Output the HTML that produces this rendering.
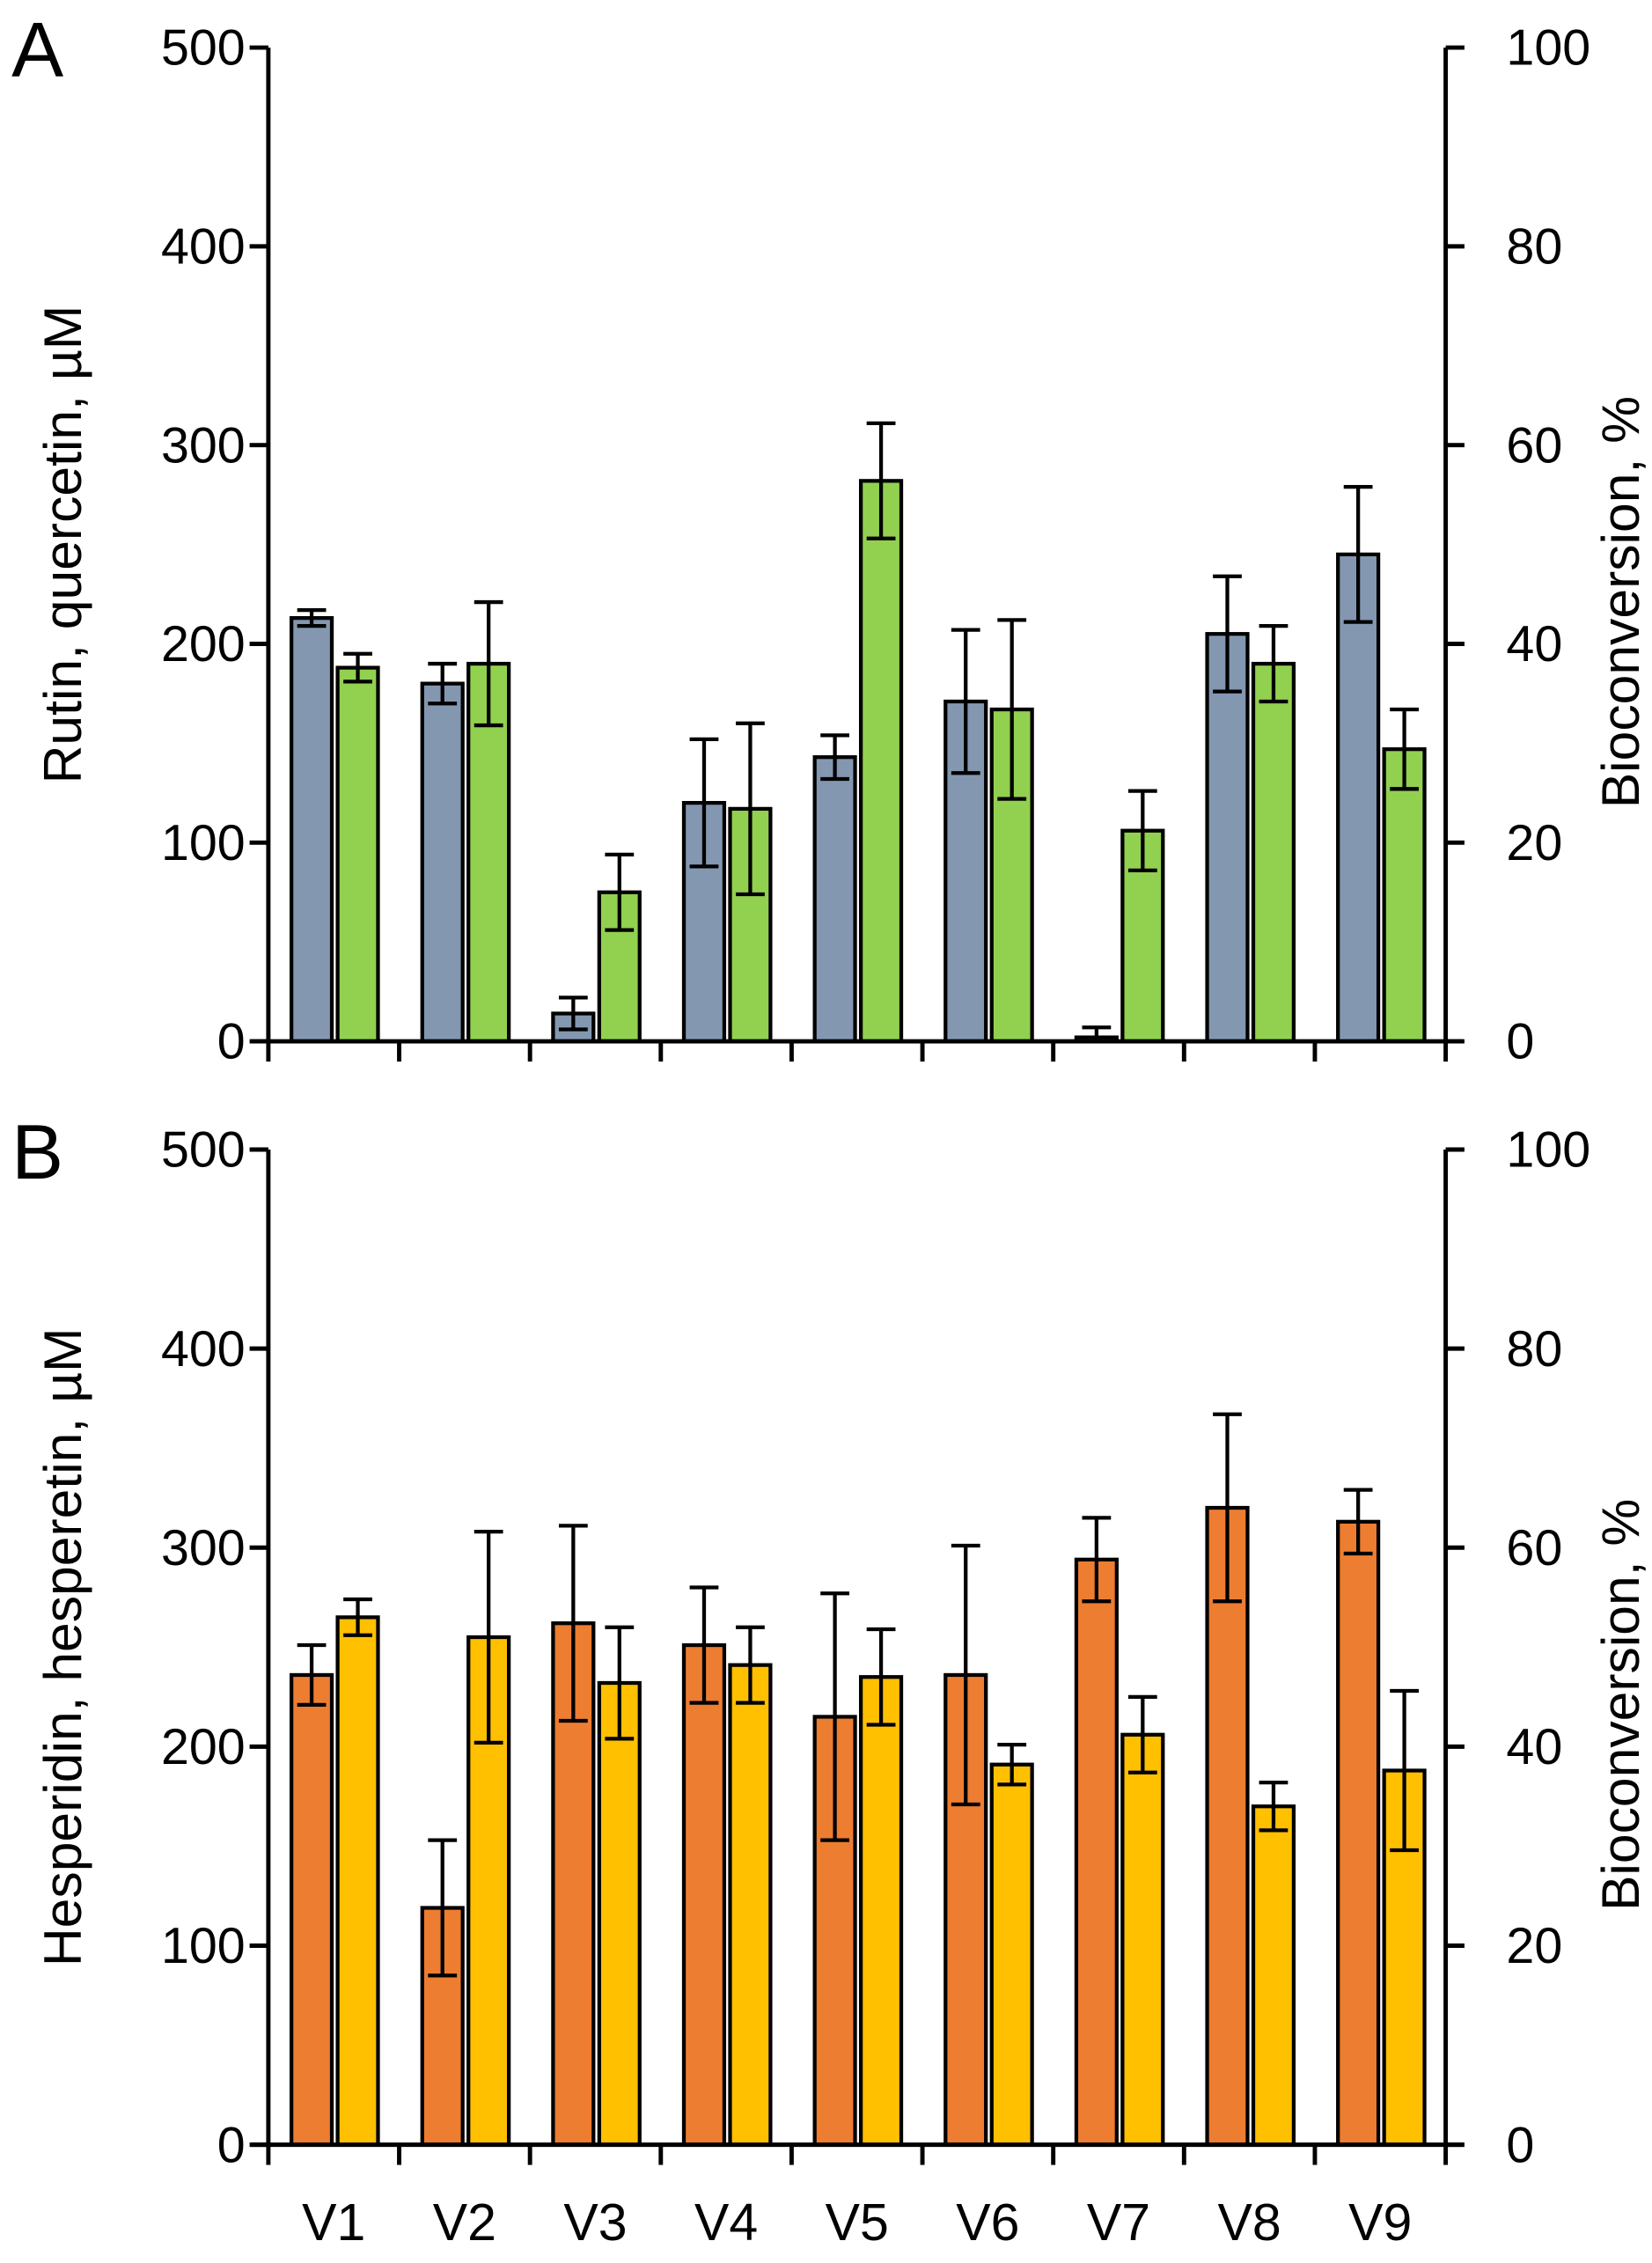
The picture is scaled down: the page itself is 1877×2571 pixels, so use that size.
<!DOCTYPE html>
<html><head><meta charset="utf-8"><style>
html,body{margin:0;padding:0;background:#fff;}
svg{display:block;}
text{font-family:"Liberation Sans",sans-serif;fill:#000;}
</style></head><body>
<svg id="chart" width="1877" height="2571" viewBox="0 0 1145 1569" preserveAspectRatio="none" xmlns="http://www.w3.org/2000/svg"></svg>
<script>
const categories = ["V1","V2","V3","V4","V5","V6","V7","V8","V9"];
const rutin = [213,180,14,120,143,171,2,205,245];
const rutinErr = [4,10,8,32,11,36,5,29,34];
const quercetin = [188,190,75,117,282,167,106,190,147];
const quercetinErr = [7,31,19,43,29,45,20,19,20];
const hesperidin = [236,119,262,251,215,236,294,320,313];
const hesperidinErr = [15,34,49,29,62,65,21,47,16];
const hesperetin = [265,255,232,241,235,191,206,170,188];
const hesperetinErr = [9,53,28,19,24,10,19,12,40];
const leftTicks = [0,100,200,300,400,500];
const rightTicks = [0,20,40,60,80,100];

const NS = "http://www.w3.org/2000/svg";
const svg = document.getElementById("chart");
const X0 = 186, X1 = 1002;
const step = (X1 - X0) / categories.length;
function mk(tag, attrs, parent) {
  const e = document.createElementNS(NS, tag);
  for (const k in attrs) e.setAttribute(k, attrs[k]);
  (parent || svg).appendChild(e);
  return e;
}

function panel(cfg) {
  const g = mk("g", {});
  
  
  const yTop = cfg.yTop, yBot = cfg.yBot;
  const y = v => yBot - (v / 500) * (yBot - yTop);
  categories.forEach((c, i) => {
    const gx = X0 + i * step;
    const series = [[cfg.s1, cfg.e1, cfg.c1], [cfg.s2, cfg.e2, cfg.c2]];
    series.forEach((s, k) => {
      const v = s[0][i], err = s[1][i];
      const bx = gx + (k === 0 ? 16 : 48);
      const r = mk("rect", {x: bx, y: y(v), width: 28, height: yBot - y(v), fill: s[2], stroke: "#000", "stroke-width": 2.6}, g);
      
      
      const cx = bx + 14;
      const eg = mk("g", {stroke: "#000", "stroke-width": 2.6}, g);
      
      
      mk("line", {x1: cx, x2: cx, y1: y(v + err), y2: y(Math.max(0, v - err))}, eg);
      mk("line", {x1: cx - 10, x2: cx + 10, y1: y(v + err), y2: y(v + err)}, eg);
      mk("line", {x1: cx - 10, x2: cx + 10, y1: y(Math.max(0, v - err)), y2: y(Math.max(0, v - err))}, eg);
    });
  });
  const ax = mk("g", {stroke: "#000", "stroke-width": 3}, g);
  
  
  mk("line", {x1: X0, x2: X0, y1: yTop, y2: yBot}, ax);
  mk("line", {x1: X1, x2: X1, y1: yTop, y2: yBot}, ax);
  mk("line", {x1: X0 - 12, x2: X1 + 12, y1: yBot, y2: yBot}, ax);
  for (let i = 0; i <= categories.length; i++) {
    const tx = X0 + i * step;
    mk("line", {x1: tx, x2: tx, y1: yBot, y2: yBot + 14}, ax);
  }
  leftTicks.forEach(t => {
    mk("line", {x1: X0 - 13, x2: X0, y1: y(t), y2: y(t)}, ax);
    const tl = mk("text", {x: 170, y: y(t) + 12, "font-size": 35, "text-anchor": "end"}, g);
    tl.textContent = t;
    
    
  });
  rightTicks.forEach(t => {
    const yy = yBot - (t / 100) * (yBot - yTop);
    mk("line", {x1: X1, x2: X1 + 13, y1: yy, y2: yy}, ax);
    const tl = mk("text", {x: 1044, y: yy + 12, "font-size": 35}, g);
    tl.textContent = t;
    
    
  });
  const lt = mk("text", {x: 0, y: 0, "font-size": 37, "text-anchor": "middle", transform: `translate(56 ${(yTop + yBot) / 2}) rotate(-90)`}, g);
  lt.textContent = cfg.leftTitle;
  
  
  const rt = mk("text", {x: 0, y: 0, "font-size": 37, "text-anchor": "middle", transform: `translate(1136 ${(yTop + yBot) / 2 + 40}) rotate(-90)`}, g);
  rt.textContent = "Bioconversion, %";
  
  
  const pl = mk("text", {x: 8, y: yTop + 20, "font-size": 54}, g);
  pl.textContent = cfg.letter;
  
  
}

panel({name: "panel-a", letter: "A", yTop: 33, yBot: 722, s1: rutin, e1: rutinErr, s2: quercetin, e2: quercetinErr,
  c1: "#8497b0", c2: "#92d050", n1: "rutin", n2: "quercetin", leftTitle: "Rutin, quercetin, \u00b5M"});
panel({name: "panel-b", letter: "B", yTop: 797, yBot: 1487, s1: hesperidin, e1: hesperidinErr, s2: hesperetin, e2: hesperetinErr,
  c1: "#ed7d31", c2: "#ffc000", n1: "hesperidin", n2: "hesperetin", leftTitle: "Hesperidin, hesperetin, \u00b5M"});

categories.forEach((c, i) => {
  const t = mk("text", {x: X0 + (i + 0.5) * step, y: 1553, "font-size": 36, "text-anchor": "middle"});
  t.textContent = c;
  
  
});
</script>
</body></html>
